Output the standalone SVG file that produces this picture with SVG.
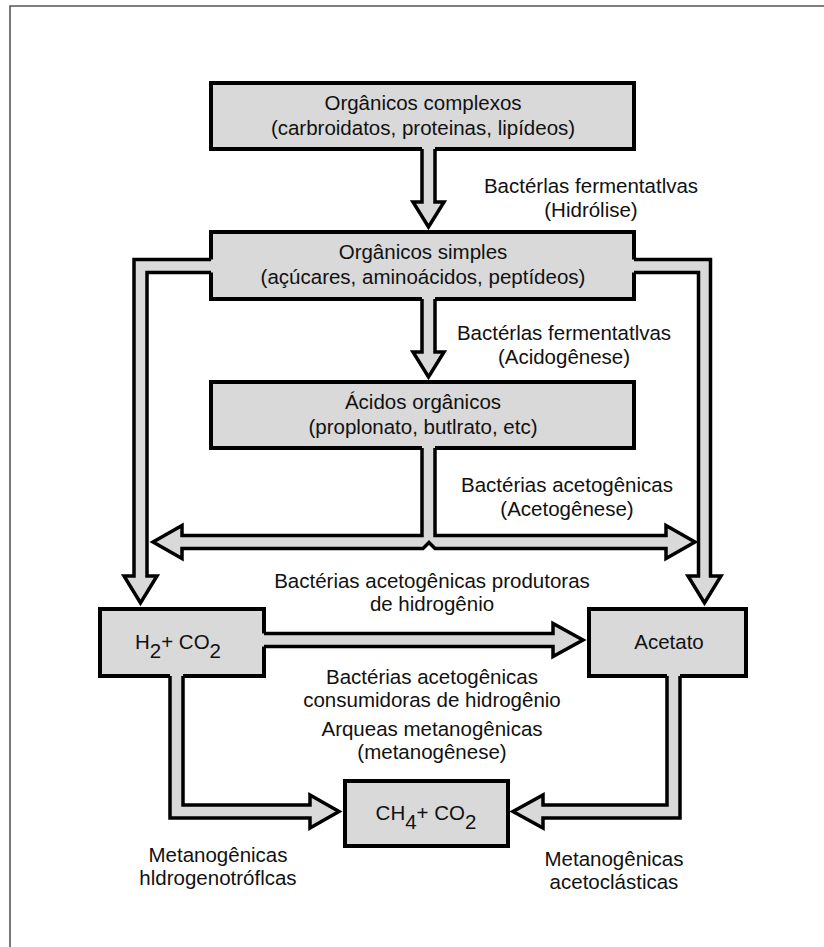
<svg xmlns="http://www.w3.org/2000/svg" width="824" height="947" viewBox="0 0 824 947">
<style>
.box{fill:#d9d9d9;stroke:#000;stroke-width:4}
.af{fill:#d9d9d9;stroke:none}
.as{fill:none;stroke:#000;stroke-width:3.5;stroke-linejoin:miter;stroke-miterlimit:10}
text{font-family:"Liberation Sans",Arial,Helvetica,sans-serif;font-size:20.5px;fill:#111;text-anchor:middle}
.frame{fill:none;stroke:#555;stroke-width:1.6}
</style>
<rect width="824" height="947" fill="#fff"/>
<path class="frame" d="M10,947 V6 H824"/>

<g id="n-complexos">
<rect class="box" x="211" y="83" width="423" height="66"/>
<text x="423" y="110">Orgânicos complexos</text>
<text x="423" y="135">(carbroidatos, proteinas, lipídeos)</text>
</g>
<g id="n-simples">
<rect class="box" x="211" y="232" width="423" height="67"/>
<text x="423" y="259">Orgânicos simples</text>
<text x="423" y="284">(açúcares, aminoácidos, peptídeos)</text>
</g>
<g id="n-acidos">
<rect class="box" x="211" y="382" width="423" height="66"/>
<text x="423" y="409">Ácidos orgânicos</text>
<text x="423" y="434">(proplonato, butlrato, etc)</text>
</g>
<g id="n-h2">
<rect class="box" x="100" y="609" width="164" height="67"/>
<text x="178" y="649">H<tspan dy="9">2</tspan><tspan dy="-9">+ CO</tspan><tspan dy="9">2</tspan></text>
</g>
<g id="n-acetato">
<rect class="box" x="589" y="609" width="157" height="67"/>
<text x="669" y="649">Acetato</text>
</g>
<g id="n-ch4">
<rect class="box" x="345" y="781" width="163" height="65"/>
<text x="426" y="820">CH<tspan dy="9">4</tspan><tspan dy="-9">+ CO</tspan><tspan dy="9">2</tspan></text>
</g>

<g id="connectors">
<!-- hidrolise -->
<path class="af" d="M422,146 V202 H413 L428.5,227 L444,202 H435 V146 Z"/>
<path class="as" d="M422,149 V202 H413 L428.5,227 L444,202 H435 V149"/>
<!-- acidogenese -->
<path class="af" d="M422,296 V352 H413 L428.5,377 L444,352 H435 V296 Z"/>
<path class="as" d="M422,299 V352 H413 L428.5,377 L444,352 H435 V299"/>
<!-- left branch to H2 -->
<path class="af" d="M214,259.5 H134 V576 H124 L140.5,603 L157,576 H147 V272.5 H214 Z"/>
<path class="as" d="M211,259.5 H134 V576 H124 L140.5,603 L157,576 H147 V272.5 H211"/>
<!-- right branch to acetato -->
<path class="af" d="M631,259.5 H710.5 V576 H721 L704.5,603 L688,576 H698.5 V272.5 H631 Z"/>
<path class="as" d="M634,259.5 H710.5 V576 H721 L704.5,603 L688,576 H698.5 V272.5 H634"/>
<!-- acetogenese double arrow -->
<path class="af" d="M422,445 V535.5 H182 V525.5 L153,542 L182,558.5 V548.5 H423 L429,542.5 L435,548.5 H666 V558.5 L695,542 L666,525.5 V535.5 H435 V445 Z"/>
<path class="as" d="M422,448 V535.5 H182 V525.5 L153,542 L182,558.5 V548.5 H423 L429,542.5 L435,548.5 H666 V558.5 L695,542 L666,525.5 V535.5 H435 V448"/>
<!-- H2 to acetato -->
<path class="af" d="M261,633.5 H553 V623.5 L583,640 L553,656.5 V646.5 H261 Z"/>
<path class="as" d="M264,633.5 H553 V623.5 L583,640 L553,656.5 V646.5 H264"/>
<!-- H2 to CH4 -->
<path class="af" d="M170,673 V818 H310 V828 L339,811.5 L310,795 V805 H183 V673 Z"/>
<path class="as" d="M170,676 V818 H310 V828 L339,811.5 L310,795 V805 H183 V676"/>
<!-- acetato to CH4 -->
<path class="af" d="M680,673 V818 H543 V828 L513,811.5 L543,795 V805 H667 V673 Z"/>
<path class="as" d="M680,676 V818 H543 V828 L513,811.5 L543,795 V805 H667 V676"/>
</g>

<g id="labels">
<text x="591" y="193">Bactérlas fermentatlvas</text>
<text x="591" y="217">(Hidrólise)</text>
<text x="564" y="340">Bactérlas fermentatlvas</text>
<text x="564" y="364">(Acidogênese)</text>
<text x="567" y="492">Bactérias acetogênicas</text>
<text x="567" y="516">(Acetogênese)</text>
<text x="432" y="588">Bactérias acetogênicas produtoras</text>
<text x="432" y="611">de hidrogênio</text>
<text x="432" y="684">Bactérias acetogênicas</text>
<text x="432" y="707">consumidoras de hidrogênio</text>
<text x="432" y="736">Arqueas metanogênicas</text>
<text x="432" y="759">(metanogênese)</text>
<text x="218" y="862">Metanogênicas</text>
<text x="218" y="885">hldrogenotróflcas</text>
<text x="614" y="866">Metanogênicas</text>
<text x="614" y="889">acetoclásticas</text>
</g>
</svg>
